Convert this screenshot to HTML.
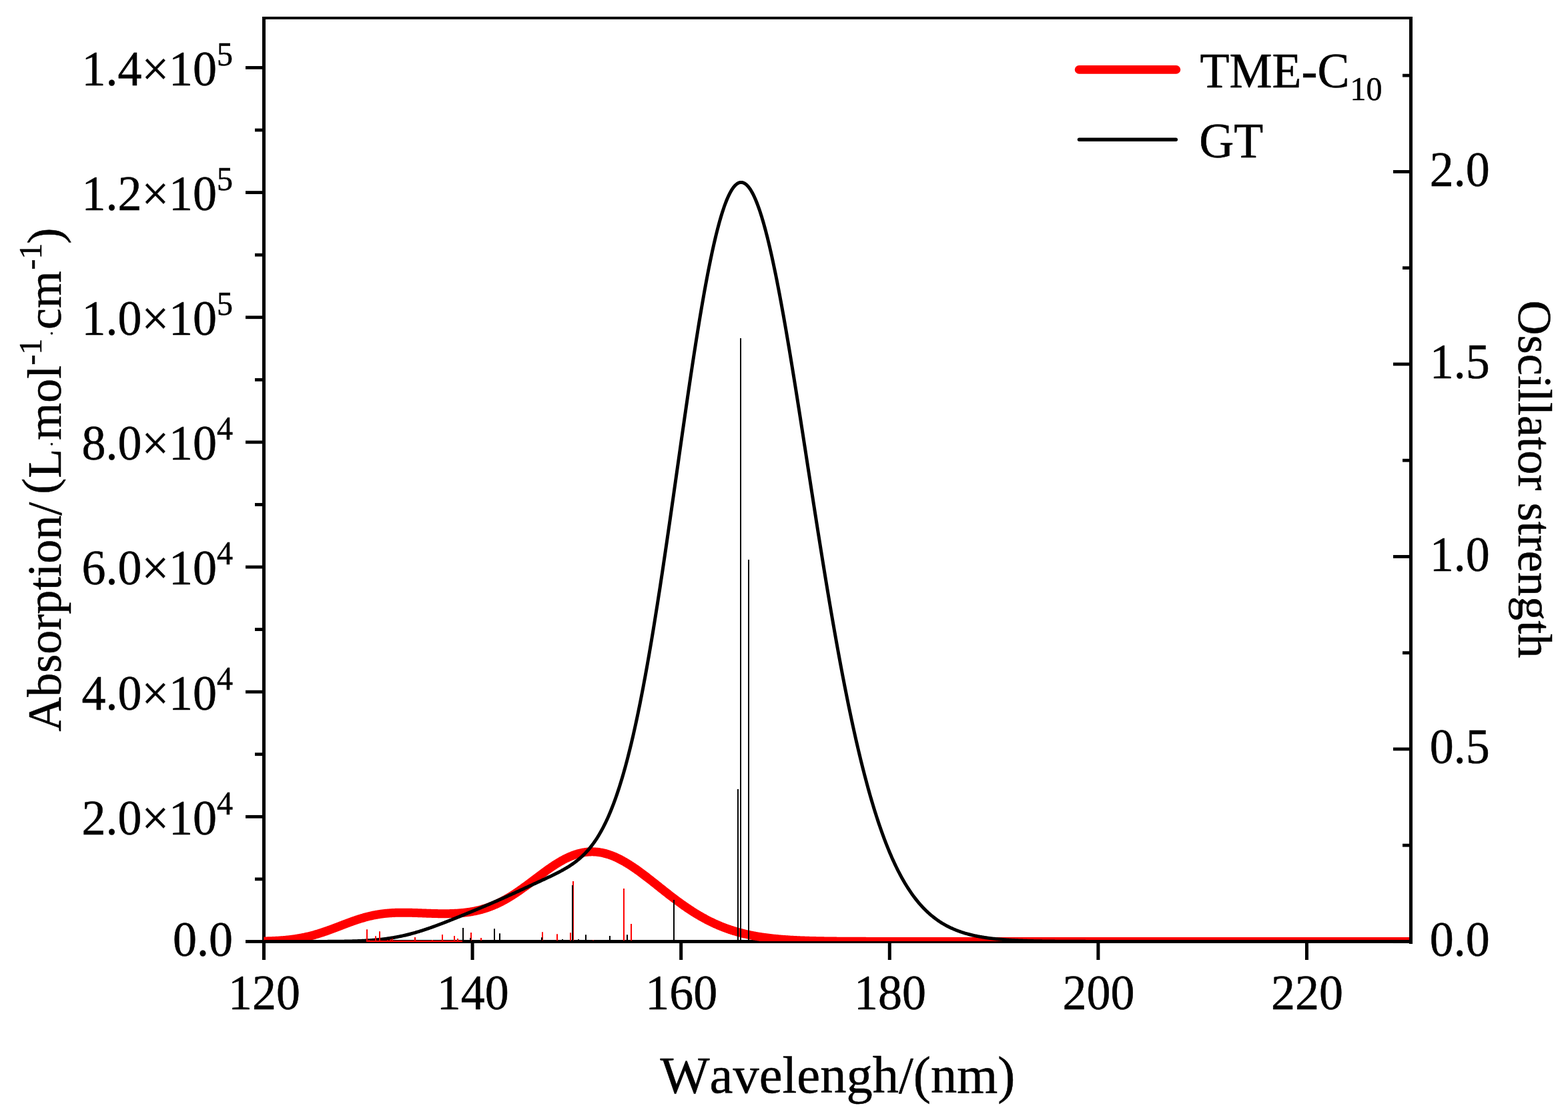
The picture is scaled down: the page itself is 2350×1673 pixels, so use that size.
<!DOCTYPE html>
<html><head><meta charset="utf-8"><title>Absorption spectrum: TME-C10 vs GT</title>
<style>html,body{margin:0;padding:0;background:#fff;overflow:hidden}svg{display:block}text{font-family:"Liberation Serif","Times New Roman",serif;fill:#000;stroke:#000;stroke-width:0.5px;font-kerning:none;font-feature-settings:"kern" 0,"liga" 0}</style></head><body>
<svg width="2350" height="1673" viewBox="0 0 2350 1673">
<rect width="2350" height="1673" fill="#fff"/>
<defs><clipPath id="pa"><rect x="395" y="27" width="1719.76" height="1384"/></clipPath></defs>
<g fill="#000">
<rect x="393" y="25" width="5" height="1414"/>
<rect x="393" y="1409" width="1724" height="4.9"/>
<rect x="392.95" y="1413" width="5" height="26"/>
<rect x="705.56" y="1413" width="5" height="26"/>
<rect x="1018.17" y="1413" width="5" height="26"/>
<rect x="1330.78" y="1413" width="5" height="26"/>
<rect x="1643.39" y="1413" width="5" height="26"/>
<rect x="1956.00" y="1413" width="5" height="26"/>
<rect x="368" y="1409.06" width="25" height="4.8"/>
<rect x="368" y="1221.91" width="25" height="4.8"/>
<rect x="368" y="1034.77" width="25" height="4.8"/>
<rect x="368" y="847.62" width="25" height="4.8"/>
<rect x="368" y="660.48" width="25" height="4.8"/>
<rect x="368" y="473.33" width="25" height="4.8"/>
<rect x="368" y="286.18" width="25" height="4.8"/>
<rect x="368" y="99.04" width="25" height="4.8"/>
<rect x="382" y="1315.49" width="11" height="4.8"/>
<rect x="382" y="1128.34" width="11" height="4.8"/>
<rect x="382" y="941.20" width="11" height="4.8"/>
<rect x="382" y="754.05" width="11" height="4.8"/>
<rect x="382" y="566.90" width="11" height="4.8"/>
<rect x="382" y="379.76" width="11" height="4.8"/>
<rect x="382" y="192.61" width="11" height="4.8"/>
</g>
<g clip-path="url(#pa)" fill="none" stroke-linejoin="round">
<polyline stroke="#f00" stroke-width="13" points="395.4,1411.03 396.4,1411.01 397.4,1410.98 398.4,1410.96 399.4,1410.93 400.4,1410.90 401.4,1410.87 402.4,1410.83 403.4,1410.80 404.4,1410.76 405.4,1410.73 406.4,1410.69 407.4,1410.64 408.4,1410.60 409.4,1410.56 410.4,1410.51 411.4,1410.46 412.4,1410.41 413.4,1410.36 414.4,1410.30 415.4,1410.24 416.4,1410.19 417.4,1410.12 418.4,1410.06 419.4,1409.99 420.4,1409.92 421.4,1409.85 422.4,1409.77 423.4,1409.69 424.4,1409.61 425.4,1409.53 426.4,1409.44 427.4,1409.35 428.4,1409.26 429.4,1409.16 430.4,1409.06 431.4,1408.96 432.4,1408.85 433.4,1408.74 434.4,1408.63 435.4,1408.51 436.4,1408.39 437.4,1408.26 438.4,1408.13 439.4,1408.00 440.4,1407.86 441.4,1407.72 442.4,1407.58 443.4,1407.43 444.4,1407.27 445.4,1407.11 446.4,1406.95 447.4,1406.79 448.4,1406.61 449.4,1406.44 450.4,1406.26 451.4,1406.07 452.4,1405.88 453.4,1405.69 454.4,1405.49 455.4,1405.29 456.4,1405.08 457.4,1404.87 458.4,1404.65 459.4,1404.43 460.4,1404.20 461.4,1403.97 462.4,1403.73 463.4,1403.49 464.4,1403.25 465.4,1403.00 466.4,1402.74 467.4,1402.48 468.4,1402.21 469.4,1401.94 470.4,1401.67 471.4,1401.39 472.4,1401.11 473.4,1400.82 474.4,1400.53 475.4,1400.23 476.4,1399.93 477.4,1399.62 478.4,1399.31 479.4,1399.00 480.4,1398.68 481.4,1398.36 482.4,1398.04 483.4,1397.71 484.4,1397.37 485.4,1397.04 486.4,1396.70 487.4,1396.35 488.4,1396.00 489.4,1395.65 490.4,1395.30 491.4,1394.94 492.4,1394.59 493.4,1394.22 494.4,1393.86 495.4,1393.49 496.4,1393.12 497.4,1392.75 498.4,1392.38 499.4,1392.01 500.4,1391.63 501.4,1391.25 502.4,1390.87 503.4,1390.49 504.4,1390.11 505.4,1389.73 506.4,1389.34 507.4,1388.96 508.4,1388.58 509.4,1388.19 510.4,1387.81 511.4,1387.42 512.5,1387.04 513.5,1386.66 514.5,1386.27 515.5,1385.89 516.5,1385.51 517.5,1385.13 518.5,1384.75 519.5,1384.38 520.5,1384.00 521.5,1383.63 522.5,1383.26 523.5,1382.89 524.5,1382.52 525.5,1382.16 526.5,1381.79 527.5,1381.44 528.5,1381.08 529.5,1380.73 530.5,1380.38 531.5,1380.03 532.5,1379.69 533.5,1379.35 534.5,1379.02 535.5,1378.68 536.5,1378.36 537.5,1378.04 538.5,1377.72 539.5,1377.40 540.5,1377.09 541.5,1376.79 542.5,1376.49 543.5,1376.19 544.5,1375.90 545.5,1375.62 546.5,1375.34 547.5,1375.06 548.5,1374.79 549.5,1374.53 550.5,1374.27 551.5,1374.02 552.5,1373.77 553.5,1373.53 554.5,1373.29 555.5,1373.06 556.5,1372.83 557.5,1372.61 558.5,1372.40 559.5,1372.19 560.5,1371.99 561.5,1371.79 562.5,1371.60 563.5,1371.42 564.5,1371.24 565.5,1371.06 566.5,1370.89 567.5,1370.73 568.5,1370.57 569.5,1370.42 570.5,1370.28 571.5,1370.14 572.5,1370.00 573.5,1369.87 574.5,1369.75 575.5,1369.63 576.5,1369.52 577.5,1369.41 578.5,1369.30 579.5,1369.21 580.5,1369.11 581.5,1369.02 582.5,1368.94 583.5,1368.86 584.5,1368.79 585.5,1368.72 586.5,1368.66 587.5,1368.60 588.5,1368.54 589.5,1368.49 590.5,1368.44 591.5,1368.40 592.5,1368.36 593.5,1368.32 594.5,1368.29 595.5,1368.26 596.5,1368.24 597.5,1368.22 598.5,1368.20 599.5,1368.19 600.5,1368.17 601.5,1368.17 602.5,1368.16 603.5,1368.16 604.5,1368.16 605.5,1368.16 606.5,1368.17 607.5,1368.17 608.5,1368.19 609.5,1368.20 610.5,1368.21 611.5,1368.23 612.5,1368.25 613.5,1368.27 614.5,1368.29 615.5,1368.31 616.5,1368.34 617.5,1368.37 618.5,1368.39 619.5,1368.42 620.5,1368.45 621.5,1368.49 622.5,1368.52 623.5,1368.55 624.5,1368.59 625.5,1368.62 626.5,1368.66 627.5,1368.69 628.5,1368.73 629.5,1368.77 630.5,1368.80 631.5,1368.84 632.5,1368.88 633.5,1368.92 634.5,1368.95 635.5,1368.99 636.5,1369.03 637.5,1369.06 638.5,1369.10 639.5,1369.14 640.5,1369.17 641.5,1369.21 642.5,1369.24 643.5,1369.28 644.5,1369.31 645.5,1369.34 646.5,1369.38 647.5,1369.41 648.5,1369.44 649.5,1369.46 650.5,1369.49 651.5,1369.52 652.5,1369.54 653.5,1369.56 654.5,1369.59 655.5,1369.61 656.5,1369.63 657.5,1369.64 658.5,1369.66 659.5,1369.67 660.5,1369.68 661.5,1369.69 662.5,1369.70 663.5,1369.70 664.5,1369.71 665.5,1369.71 666.5,1369.71 667.5,1369.70 668.5,1369.70 669.5,1369.69 670.5,1369.68 671.5,1369.66 672.5,1369.65 673.5,1369.63 674.5,1369.60 675.5,1369.58 676.5,1369.55 677.5,1369.51 678.5,1369.48 679.5,1369.44 680.5,1369.40 681.5,1369.35 682.5,1369.30 683.5,1369.25 684.5,1369.19 685.5,1369.13 686.5,1369.06 687.5,1368.99 688.5,1368.92 689.5,1368.84 690.5,1368.76 691.5,1368.67 692.5,1368.58 693.5,1368.48 694.5,1368.38 695.5,1368.27 696.5,1368.16 697.5,1368.04 698.5,1367.92 699.5,1367.79 700.5,1367.66 701.5,1367.52 702.5,1367.37 703.5,1367.22 704.5,1367.07 705.5,1366.91 706.5,1366.74 707.5,1366.56 708.5,1366.38 709.5,1366.20 710.5,1366.00 711.5,1365.80 712.5,1365.60 713.5,1365.38 714.5,1365.16 715.5,1364.94 716.5,1364.70 717.5,1364.46 718.5,1364.21 719.5,1363.96 720.5,1363.70 721.5,1363.43 722.5,1363.15 723.5,1362.86 724.5,1362.57 725.5,1362.27 726.5,1361.96 727.5,1361.65 728.5,1361.32 729.5,1360.99 730.5,1360.65 731.5,1360.30 732.5,1359.95 733.5,1359.58 734.5,1359.21 735.5,1358.83 736.5,1358.44 737.5,1358.05 738.5,1357.64 739.5,1357.23 740.5,1356.81 741.5,1356.38 742.5,1355.94 743.5,1355.50 744.5,1355.04 745.5,1354.58 746.5,1354.11 747.5,1353.63 748.5,1353.15 749.5,1352.65 750.5,1352.15 751.5,1351.64 752.5,1351.12 753.5,1350.59 754.5,1350.06 755.5,1349.52 756.5,1348.97 757.5,1348.41 758.5,1347.84 759.5,1347.27 760.5,1346.69 761.5,1346.10 762.5,1345.51 763.5,1344.90 764.5,1344.29 765.5,1343.68 766.5,1343.05 767.5,1342.42 768.5,1341.79 769.5,1341.14 770.5,1340.50 771.5,1339.84 772.5,1339.18 773.5,1338.51 774.5,1337.84 775.5,1337.16 776.5,1336.47 777.5,1335.78 778.5,1335.09 779.5,1334.39 780.5,1333.69 781.5,1332.98 782.5,1332.26 783.5,1331.55 784.5,1330.82 785.5,1330.10 786.5,1329.37 787.5,1328.64 788.5,1327.90 789.5,1327.16 790.5,1326.42 791.5,1325.68 792.5,1324.93 793.5,1324.19 794.5,1323.44 795.5,1322.68 796.5,1321.93 797.5,1321.18 798.5,1320.42 799.5,1319.67 800.5,1318.91 801.5,1318.15 802.5,1317.40 803.5,1316.64 804.5,1315.89 805.5,1315.13 806.5,1314.38 807.5,1313.62 808.5,1312.87 809.5,1312.12 810.5,1311.37 811.5,1310.63 812.5,1309.89 813.5,1309.15 814.5,1308.41 815.5,1307.67 816.5,1306.94 817.5,1306.22 818.5,1305.49 819.5,1304.78 820.5,1304.06 821.5,1303.35 822.5,1302.65 823.5,1301.95 824.5,1301.25 825.5,1300.56 826.5,1299.88 827.5,1299.21 828.5,1298.54 829.5,1297.87 830.5,1297.22 831.5,1296.57 832.5,1295.92 833.5,1295.29 834.5,1294.66 835.5,1294.04 836.5,1293.43 837.5,1292.83 838.5,1292.23 839.5,1291.65 840.5,1291.07 841.5,1290.50 842.5,1289.95 843.5,1289.40 844.5,1288.86 845.5,1288.33 846.5,1287.81 847.5,1287.30 848.5,1286.80 849.5,1286.32 850.5,1285.84 851.5,1285.37 852.5,1284.92 853.5,1284.48 854.5,1284.04 855.5,1283.62 856.5,1283.21 857.5,1282.82 858.5,1282.43 859.5,1282.06 860.5,1281.70 861.5,1281.35 862.5,1281.01 863.5,1280.69 864.5,1280.38 865.5,1280.08 866.5,1279.79 867.5,1279.52 868.5,1279.26 869.5,1279.01 870.5,1278.78 871.5,1278.56 872.5,1278.35 873.5,1278.16 874.5,1277.98 875.5,1277.81 876.5,1277.66 877.5,1277.51 878.5,1277.39 879.5,1277.28 880.5,1277.18 881.5,1277.09 882.5,1277.02 883.5,1276.96 884.5,1276.91 885.5,1276.88 886.5,1276.87 887.5,1276.86 888.5,1276.87 889.5,1276.90 890.5,1276.93 891.5,1276.98 892.5,1277.05 893.5,1277.12 894.5,1277.22 895.5,1277.32 896.5,1277.44 897.5,1277.57 898.5,1277.72 899.5,1277.87 900.5,1278.04 901.5,1278.23 902.5,1278.43 903.5,1278.64 904.5,1278.86 905.5,1279.10 906.5,1279.35 907.5,1279.61 908.5,1279.88 909.5,1280.17 910.5,1280.47 911.5,1280.78 912.5,1281.10 913.5,1281.44 914.5,1281.79 915.5,1282.14 916.5,1282.52 917.5,1282.90 918.5,1283.29 919.5,1283.70 920.5,1284.11 921.5,1284.54 922.5,1284.98 923.5,1285.43 924.5,1285.89 925.5,1286.36 926.5,1286.84 927.5,1287.33 928.5,1287.84 929.5,1288.35 930.5,1288.87 931.5,1289.40 932.5,1289.94 933.5,1290.49 934.5,1291.05 935.5,1291.61 936.5,1292.19 937.5,1292.78 938.5,1293.37 939.5,1293.97 940.5,1294.58 941.5,1295.20 942.5,1295.82 943.5,1296.46 944.5,1297.10 945.5,1297.75 946.5,1298.40 947.5,1299.06 948.5,1299.73 949.5,1300.41 950.5,1301.09 951.5,1301.78 952.5,1302.47 953.5,1303.17 954.5,1303.88 955.5,1304.59 956.5,1305.31 957.5,1306.03 958.5,1306.76 959.5,1307.49 960.5,1308.22 961.5,1308.96 962.5,1309.71 963.5,1310.46 964.5,1311.21 965.5,1311.97 966.5,1312.73 967.5,1313.49 968.5,1314.26 969.5,1315.02 970.5,1315.80 971.5,1316.57 972.5,1317.35 973.5,1318.13 974.5,1318.91 975.5,1319.69 976.5,1320.48 977.5,1321.27 978.5,1322.06 979.5,1322.85 980.5,1323.64 981.5,1324.43 982.5,1325.22 983.5,1326.02 984.5,1326.81 985.5,1327.60 986.5,1328.40 987.5,1329.19 988.5,1329.99 989.5,1330.78 990.5,1331.57 991.5,1332.37 992.5,1333.16 993.5,1333.95 994.5,1334.74 995.5,1335.53 996.5,1336.32 997.5,1337.11 998.5,1337.89 999.5,1338.67 1000.5,1339.46 1001.5,1340.23 1002.5,1341.01 1003.5,1341.79 1004.5,1342.56 1005.5,1343.33 1006.5,1344.10 1007.5,1344.86 1008.5,1345.63 1009.5,1346.39 1010.5,1347.14 1011.5,1347.90 1012.5,1348.65 1013.5,1349.40 1014.5,1350.14 1015.5,1350.88 1016.5,1351.62 1017.5,1352.35 1018.5,1353.08 1019.5,1353.80 1020.5,1354.52 1021.5,1355.24 1022.5,1355.96 1023.5,1356.66 1024.5,1357.37 1025.5,1358.07 1026.5,1358.77 1027.5,1359.46 1028.5,1360.14 1029.5,1360.83 1030.5,1361.50 1031.5,1362.18 1032.5,1362.85 1033.5,1363.51 1034.5,1364.17 1035.5,1364.82 1036.5,1365.47 1037.5,1366.11 1038.5,1366.75 1039.5,1367.38 1040.5,1368.01 1041.5,1368.64 1042.5,1369.25 1043.5,1369.87 1044.5,1370.47 1045.5,1371.07 1046.5,1371.67 1047.5,1372.26 1048.5,1372.85 1049.5,1373.43 1050.5,1374.00 1051.5,1374.57 1052.5,1375.13 1053.5,1375.69 1054.5,1376.24 1055.5,1376.79 1056.5,1377.33 1057.5,1377.87 1058.5,1378.40 1059.5,1378.92 1060.5,1379.44 1061.5,1379.95 1062.5,1380.46 1063.5,1380.96 1064.5,1381.46 1065.5,1381.95 1066.5,1382.43 1067.5,1382.91 1068.5,1383.39 1069.5,1383.86 1070.5,1384.32 1071.5,1384.78 1072.5,1385.23 1073.5,1385.68 1074.5,1386.12 1075.5,1386.55 1076.5,1386.98 1077.5,1387.41 1078.5,1387.83 1079.5,1388.24 1080.5,1388.65 1081.5,1389.05 1082.5,1389.45 1083.5,1389.84 1084.5,1390.23 1085.5,1390.61 1086.5,1390.99 1087.5,1391.36 1088.5,1391.73 1089.5,1392.09 1090.5,1392.45 1091.5,1392.80 1092.5,1393.14 1093.5,1393.49 1094.5,1393.82 1095.5,1394.15 1096.5,1394.48 1097.5,1394.80 1098.5,1395.12 1099.5,1395.43 1100.5,1395.74 1101.5,1396.04 1102.5,1396.34 1103.5,1396.64 1104.5,1396.92 1105.5,1397.21 1106.5,1397.49 1107.5,1397.77 1108.5,1398.04 1109.5,1398.30 1110.5,1398.57 1111.5,1398.83 1112.5,1399.08 1113.5,1399.33 1114.5,1399.58 1115.5,1399.82 1116.5,1400.06 1117.5,1400.29 1118.5,1400.52 1119.5,1400.75 1120.5,1400.97 1121.5,1401.19 1122.5,1401.40 1123.5,1401.61 1124.5,1401.82 1125.5,1402.02 1126.5,1402.23 1127.5,1402.42 1128.5,1402.61 1129.5,1402.80 1130.5,1402.99 1131.5,1403.17 1132.5,1403.35 1133.5,1403.53 1134.5,1403.70 1135.5,1403.87 1136.5,1404.04 1137.5,1404.20 1138.5,1404.36 1139.5,1404.52 1140.5,1404.67 1141.5,1404.83 1142.5,1404.97 1143.5,1405.12 1144.5,1405.26 1145.5,1405.40 1146.5,1405.54 1147.5,1405.68 1148.5,1405.81 1149.5,1405.94 1150.5,1406.06 1151.5,1406.19 1152.5,1406.31 1153.5,1406.43 1154.5,1406.55 1155.5,1406.66 1156.5,1406.77 1157.5,1406.88 1158.5,1406.99 1159.5,1407.10 1160.5,1407.20 1161.5,1407.30 1162.5,1407.40 1163.5,1407.50 1164.5,1407.59 1165.5,1407.69 1166.5,1407.78 1167.5,1407.87 1168.5,1407.95 1169.5,1408.04 1170.5,1408.12 1171.5,1408.20 1172.5,1408.28 1173.5,1408.36 1174.5,1408.44 1175.5,1408.51 1176.5,1408.59 1177.5,1408.66 1178.5,1408.73 1179.5,1408.80 1180.5,1408.86 1181.5,1408.93 1182.5,1408.99 1183.5,1409.05 1184.5,1409.12 1185.5,1409.18 1186.5,1409.23 1187.5,1409.29 1188.5,1409.35 1189.5,1409.40 1190.5,1409.45 1191.5,1409.51 1192.5,1409.56 1193.5,1409.61 1194.5,1409.65 1195.5,1409.70 1196.5,1409.75 1197.5,1409.79 1198.5,1409.84 1199.5,1409.88 1200.5,1409.92 1201.5,1409.96 1202.5,1410.00 1203.5,1410.04 1204.5,1410.08 1205.5,1410.11 1206.5,1410.15 1207.5,1410.19 1208.5,1410.22 1209.5,1410.25 1210.5,1410.29 1211.5,1410.32 1212.5,1410.35 1213.5,1410.38 1214.5,1410.41 1215.5,1410.44 1216.5,1410.47 1217.5,1410.49 1218.5,1410.52 1219.5,1410.55 1220.5,1410.57 1221.5,1410.60 1222.5,1410.62 1223.5,1410.64 1224.5,1410.67 1225.5,1410.69 1226.5,1410.71 1227.5,1410.73 1228.5,1410.75 1229.5,1410.77 1230.5,1410.79 1231.5,1410.81 1232.5,1410.83 1233.5,1410.85 1234.5,1410.86 1235.5,1410.88 1236.5,1410.90 1237.5,1410.91 1238.5,1410.93 1239.5,1410.94 1240.5,1410.96 1241.5,1410.97 1242.5,1410.99 1243.5,1411.00 1244.5,1411.02 1245.5,1411.03 1246.5,1411.04 1247.5,1411.05 1248.5,1411.07 1249.5,1411.08 1250.5,1411.09 1251.5,1411.10 1252.5,1411.11 1253.5,1411.12 1254.5,1411.13 1255.5,1411.14 1256.5,1411.15 1257.5,1411.16 1258.5,1411.17 1259.5,1411.18 1260.5,1411.19 1261.5,1411.19 1262.5,1411.20 1263.5,1411.21 1264.5,1411.22 1265.5,1411.22 1266.5,1411.23 1267.5,1411.24 1268.5,1411.25 1269.5,1411.25 1270.5,1411.26 1271.5,1411.26 1272.5,1411.27 1273.5,1411.28 1274.5,1411.28 1275.5,1411.29 1276.5,1411.29 1277.5,1411.30 1278.5,1411.30 1279.5,1411.31 1280.5,1411.31 1281.5,1411.32 1282.5,1411.32 1283.5,1411.33 1284.5,1411.33 1285.5,1411.33 1286.5,1411.34 1287.5,1411.34 1288.5,1411.35 1289.5,1411.35 1290.5,1411.35 1291.5,1411.36 1292.5,1411.36 1293.5,1411.36 1294.5,1411.37 1295.5,1411.37 1296.5,1411.37 1297.5,1411.37 1298.5,1411.38 1299.5,1411.38 1300.5,1411.38 1301.5,1411.39 1302.5,1411.39 1303.5,1411.39 1304.5,1411.39 1305.5,1411.39 1306.5,1411.40 1307.5,1411.40 1308.5,1411.40 1309.5,1411.40 1310.5,1411.40 1311.5,1411.41 1312.5,1411.41 1313.5,1411.41 1314.5,1411.41 1315.5,1411.41 1316.5,1411.41 1317.5,1411.42 1318.5,1411.42 1319.5,1411.42 1320.5,1411.42 1321.5,1411.42 1322.5,1411.42 1323.5,1411.42 1324.5,1411.43 1325.5,1411.43 1326.5,1411.43 1327.5,1411.43 1328.5,1411.43 1329.5,1411.43 1330.5,1411.43 1331.5,1411.43 1332.5,1411.43 1333.5,1411.43 1334.5,1411.44 1335.5,1411.44 1336.5,1411.44 1337.5,1411.44 1338.5,1411.44 1339.5,1411.44 1340.5,1411.44 1341.5,1411.44 1342.5,1411.44 1343.5,1411.44 1344.5,1411.44 1345.5,1411.44 1346.5,1411.44 1347.5,1411.44 1348.5,1411.44 1349.5,1411.45 1350.5,1411.45 1351.5,1411.45 1352.5,1411.45 1353.5,1411.45 1354.5,1411.45 1355.5,1411.45 1356.5,1411.45 1357.5,1411.45 1358.5,1411.45 1359.5,1411.45 1360.5,1411.45 1361.5,1411.45 1362.5,1411.45 1363.5,1411.45 1364.5,1411.45 1365.5,1411.45 1366.5,1411.45 1367.5,1411.45 1368.5,1411.45 1369.5,1411.45 1370.5,1411.45 1371.5,1411.45 1372.5,1411.45 1373.5,1411.45 1374.5,1411.45 1375.5,1411.45 1376.5,1411.45 1377.5,1411.45 1378.5,1411.45 1379.5,1411.46 1380.5,1411.46 1381.5,1411.46 1382.5,1411.46 1383.5,1411.46 1384.5,1411.46 1385.5,1411.46 1386.5,1411.46 1387.5,1411.46 1388.5,1411.46 1389.5,1411.46 1390.5,1411.46 1391.5,1411.46 1392.5,1411.46 1393.5,1411.46 1394.5,1411.46 1395.5,1411.46 1396.5,1411.46 1397.5,1411.46 1398.5,1411.46 1399.5,1411.46 1400.5,1411.46 1401.5,1411.46 1402.5,1411.46 1403.5,1411.46 1404.5,1411.46 1405.5,1411.46 1406.5,1411.46 1407.5,1411.46 1408.5,1411.46 1409.5,1411.46 1410.5,1411.46 1411.5,1411.46 1412.5,1411.46 1413.5,1411.46 1414.5,1411.46 1415.5,1411.46 1416.5,1411.46 1417.5,1411.46 1418.5,1411.46 1419.5,1411.46 1420.5,1411.46 1421.5,1411.46 1422.5,1411.46 1423.5,1411.46 1424.5,1411.46 1425.5,1411.46 1426.5,1411.46 1427.5,1411.46 1428.5,1411.46 1429.5,1411.46 1430.5,1411.46 1431.5,1411.46 1432.5,1411.46 1433.5,1411.46 1434.5,1411.46 1435.5,1411.46 1436.5,1411.46 1437.5,1411.46 1438.5,1411.46 1439.5,1411.46 1440.5,1411.46 1441.5,1411.46 1442.5,1411.46 1443.5,1411.46 1444.5,1411.46 1445.5,1411.46 1446.5,1411.46 1447.5,1411.46 1448.5,1411.46 1449.5,1411.46 1450.5,1411.46 1451.5,1411.46 1452.5,1411.46 1453.5,1411.46 1454.5,1411.46 1455.5,1411.46 1456.5,1411.46 1457.5,1411.46 1458.5,1411.46 1459.5,1411.46 1460.5,1411.46 1461.5,1411.46 1462.5,1411.46 1463.5,1411.46 1464.5,1411.46 1465.5,1411.46 1466.5,1411.46 1467.5,1411.46 1468.5,1411.46 1469.5,1411.46 1470.5,1411.46 1471.5,1411.46 1472.5,1411.46 1473.5,1411.46 1474.5,1411.46 1475.5,1411.46 1476.5,1411.46 1477.5,1411.46 1478.5,1411.46 1479.5,1411.46 1480.5,1411.46 1481.5,1411.46 1482.5,1411.46 1483.5,1411.46 1484.5,1411.46 1485.5,1411.46 1486.5,1411.46 1487.5,1411.46 1488.5,1411.46 1489.5,1411.46 1490.5,1411.46 1491.5,1411.46 1492.5,1411.46 1493.5,1411.46 1494.5,1411.46 1495.5,1411.46 1496.5,1411.46 1497.5,1411.46 1498.5,1411.46 1499.5,1411.46 1500.5,1411.46 1501.5,1411.46 1502.5,1411.46 1503.5,1411.46 1504.5,1411.46 1505.5,1411.46 1506.5,1411.46 1507.5,1411.46 1508.5,1411.46 1509.5,1411.46 1510.5,1411.46 1511.5,1411.46 1512.5,1411.46 1513.5,1411.46 1514.5,1411.46 1515.5,1411.46 1516.5,1411.46 1517.5,1411.46 1518.5,1411.46 1519.5,1411.46 1520.5,1411.46 1521.5,1411.46 1522.5,1411.46 1523.5,1411.46 1524.5,1411.46 1525.5,1411.46 1526.5,1411.46 1527.5,1411.46 1528.5,1411.46 1529.5,1411.46 1530.5,1411.46 1531.5,1411.46 1532.5,1411.46 1533.5,1411.46 1534.5,1411.46 1535.5,1411.46 1536.5,1411.46 1537.5,1411.46 1538.5,1411.46 1539.5,1411.46 1540.5,1411.46 1541.5,1411.46 1542.5,1411.46 1543.5,1411.46 1544.5,1411.46 1545.5,1411.46 1546.5,1411.46 1547.5,1411.46 1548.5,1411.46 1549.5,1411.46 1550.5,1411.46 1551.5,1411.46 1552.5,1411.46 1553.5,1411.46 1554.5,1411.46 1555.5,1411.46 1556.5,1411.46 1557.5,1411.46 1558.5,1411.46 1559.5,1411.46 1560.5,1411.46 1561.5,1411.46 1562.5,1411.46 1563.5,1411.46 1564.5,1411.46 1565.5,1411.46 1566.5,1411.46 1567.5,1411.46 1568.5,1411.46 1569.5,1411.46 1570.5,1411.46 1571.5,1411.46 1572.5,1411.46 1573.5,1411.46 1574.5,1411.46 1575.5,1411.46 1576.5,1411.46 1577.5,1411.46 1578.5,1411.46 1579.5,1411.46 1580.5,1411.46 1581.5,1411.46 1582.5,1411.46 1583.5,1411.46 1584.5,1411.46 1585.5,1411.46 1586.5,1411.46 1587.5,1411.46 1588.5,1411.46 1589.5,1411.46 1590.5,1411.46 1591.5,1411.46 1592.5,1411.46 1593.5,1411.46 1594.5,1411.46 1595.5,1411.46 1596.5,1411.46 1597.5,1411.46 1598.5,1411.46 1599.5,1411.46 1600.5,1411.46 1601.5,1411.46 1602.5,1411.46 1603.5,1411.46 1604.5,1411.46 1605.5,1411.46 1606.5,1411.46 1607.5,1411.46 1608.5,1411.46 1609.5,1411.46 1610.5,1411.46 1611.5,1411.46 1612.5,1411.46 1613.5,1411.46 1614.5,1411.46 1615.5,1411.46 1616.5,1411.46 1617.5,1411.46 1618.5,1411.46 1619.5,1411.46 1620.5,1411.46 1621.5,1411.46 1622.5,1411.46 1623.5,1411.46 1624.5,1411.46 1625.5,1411.46 1626.5,1411.46 1627.5,1411.46 1628.5,1411.46 1629.5,1411.46 1630.5,1411.46 1631.5,1411.46 1632.5,1411.46 1633.5,1411.46 1634.5,1411.46 1635.5,1411.46 1636.5,1411.46 1637.5,1411.46 1638.5,1411.46 1639.5,1411.46 1640.5,1411.46 1641.5,1411.46 1642.5,1411.46 1643.5,1411.46 1644.5,1411.46 1645.5,1411.46 1646.5,1411.46 1647.5,1411.46 1648.5,1411.46 1649.5,1411.46 1650.5,1411.46 1651.5,1411.46 1652.5,1411.46 1653.5,1411.46 1654.5,1411.46 1655.5,1411.46 1656.5,1411.46 1657.5,1411.46 1658.5,1411.46 1659.5,1411.46 1660.5,1411.46 1661.5,1411.46 1662.5,1411.46 1663.5,1411.46 1664.5,1411.46 1665.5,1411.46 1666.5,1411.46 1667.5,1411.46 1668.5,1411.46 1669.5,1411.46 1670.5,1411.46 1671.5,1411.46 1672.5,1411.46 1673.5,1411.46 1674.5,1411.46 1675.5,1411.46 1676.5,1411.46 1677.5,1411.46 1678.5,1411.46 1679.5,1411.46 1680.5,1411.46 1681.5,1411.46 1682.5,1411.46 1683.5,1411.46 1684.5,1411.46 1685.5,1411.46 1686.5,1411.46 1687.5,1411.46 1688.5,1411.46 1689.5,1411.46 1690.5,1411.46 1691.5,1411.46 1692.5,1411.46 1693.5,1411.46 1694.5,1411.46 1695.5,1411.46 1696.5,1411.46 1697.5,1411.46 1698.5,1411.46 1699.5,1411.46 1700.5,1411.46 1701.5,1411.46 1702.5,1411.46 1703.5,1411.46 1704.5,1411.46 1705.5,1411.46 1706.5,1411.46 1707.5,1411.46 1708.5,1411.46 1709.5,1411.46 1710.5,1411.46 1711.5,1411.46 1712.5,1411.46 1713.5,1411.46 1714.5,1411.46 1715.5,1411.46 1716.5,1411.46 1717.5,1411.46 1718.5,1411.46 1719.5,1411.46 1720.5,1411.46 1721.5,1411.46 1722.5,1411.46 1723.5,1411.46 1724.5,1411.46 1725.5,1411.46 1726.5,1411.46 1727.5,1411.46 1728.5,1411.46 1729.5,1411.46 1730.5,1411.46 1731.5,1411.46 1732.5,1411.46 1733.5,1411.46 1734.5,1411.46 1735.5,1411.46 1736.5,1411.46 1737.5,1411.46 1738.5,1411.46 1739.5,1411.46 1740.5,1411.46 1741.5,1411.46 1742.5,1411.46 1743.5,1411.46 1744.5,1411.46 1745.5,1411.46 1746.5,1411.46 1747.5,1411.46 1748.5,1411.46 1749.5,1411.46 1750.5,1411.46 1751.5,1411.46 1752.5,1411.46 1753.5,1411.46 1754.5,1411.46 1755.5,1411.46 1756.5,1411.46 1757.5,1411.46 1758.5,1411.46 1759.5,1411.46 1760.5,1411.46 1761.5,1411.46 1762.5,1411.46 1763.5,1411.46 1764.5,1411.46 1765.5,1411.46 1766.5,1411.46 1767.5,1411.46 1768.5,1411.46 1769.5,1411.46 1770.5,1411.46 1771.5,1411.46 1772.5,1411.46 1773.5,1411.46 1774.5,1411.46 1775.5,1411.46 1776.5,1411.46 1777.5,1411.46 1778.5,1411.46 1779.5,1411.46 1780.5,1411.46 1781.5,1411.46 1782.5,1411.46 1783.5,1411.46 1784.5,1411.46 1785.5,1411.46 1786.5,1411.46 1787.5,1411.46 1788.5,1411.46 1789.5,1411.46 1790.5,1411.46 1791.5,1411.46 1792.5,1411.46 1793.5,1411.46 1794.5,1411.46 1795.5,1411.46 1796.5,1411.46 1797.5,1411.46 1798.5,1411.46 1799.5,1411.46 1800.5,1411.46 1801.5,1411.46 1802.5,1411.46 1803.5,1411.46 1804.5,1411.46 1805.5,1411.46 1806.5,1411.46 1807.5,1411.46 1808.5,1411.46 1809.5,1411.46 1810.5,1411.46 1811.5,1411.46 1812.5,1411.46 1813.5,1411.46 1814.5,1411.46 1815.5,1411.46 1816.5,1411.46 1817.5,1411.46 1818.5,1411.46 1819.5,1411.46 1820.5,1411.46 1821.5,1411.46 1822.5,1411.46 1823.5,1411.46 1824.5,1411.46 1825.5,1411.46 1826.5,1411.46 1827.5,1411.46 1828.5,1411.46 1829.5,1411.46 1830.5,1411.46 1831.5,1411.46 1832.5,1411.46 1833.5,1411.46 1834.5,1411.46 1835.5,1411.46 1836.5,1411.46 1837.5,1411.46 1838.5,1411.46 1839.5,1411.46 1840.5,1411.46 1841.5,1411.46 1842.5,1411.46 1843.5,1411.46 1844.5,1411.46 1845.5,1411.46 1846.5,1411.46 1847.5,1411.46 1848.5,1411.46 1849.5,1411.46 1850.5,1411.46 1851.5,1411.46 1852.5,1411.46 1853.5,1411.46 1854.5,1411.46 1855.5,1411.46 1856.5,1411.46 1857.5,1411.46 1858.5,1411.46 1859.5,1411.46 1860.5,1411.46 1861.5,1411.46 1862.5,1411.46 1863.5,1411.46 1864.5,1411.46 1865.5,1411.46 1866.5,1411.46 1867.5,1411.46 1868.5,1411.46 1869.5,1411.46 1870.5,1411.46 1871.5,1411.46 1872.5,1411.46 1873.5,1411.46 1874.5,1411.46 1875.5,1411.46 1876.5,1411.46 1877.5,1411.46 1878.5,1411.46 1879.5,1411.46 1880.5,1411.46 1881.5,1411.46 1882.5,1411.46 1883.5,1411.46 1884.5,1411.46 1885.5,1411.46 1886.5,1411.46 1887.5,1411.46 1888.5,1411.46 1889.5,1411.46 1890.5,1411.46 1891.5,1411.46 1892.5,1411.46 1893.5,1411.46 1894.5,1411.46 1895.5,1411.46 1896.5,1411.46 1897.5,1411.46 1898.5,1411.46 1899.5,1411.46 1900.5,1411.46 1901.5,1411.46 1902.5,1411.46 1903.5,1411.46 1904.5,1411.46 1905.5,1411.46 1906.5,1411.46 1907.5,1411.46 1908.5,1411.46 1909.5,1411.46 1910.5,1411.46 1911.5,1411.46 1912.5,1411.46 1913.5,1411.46 1914.5,1411.46 1915.5,1411.46 1916.5,1411.46 1917.5,1411.46 1918.5,1411.46 1919.5,1411.46 1920.5,1411.46 1921.5,1411.46 1922.5,1411.46 1923.5,1411.46 1924.5,1411.46 1925.5,1411.46 1926.5,1411.46 1927.5,1411.46 1928.5,1411.46 1929.5,1411.46 1930.5,1411.46 1931.5,1411.46 1932.5,1411.46 1933.5,1411.46 1934.5,1411.46 1935.5,1411.46 1936.5,1411.46 1937.5,1411.46 1938.5,1411.46 1939.5,1411.46 1940.5,1411.46 1941.5,1411.46 1942.5,1411.46 1943.5,1411.46 1944.5,1411.46 1945.5,1411.46 1946.5,1411.46 1947.5,1411.46 1948.5,1411.46 1949.5,1411.46 1950.5,1411.46 1951.5,1411.46 1952.5,1411.46 1953.5,1411.46 1954.5,1411.46 1955.5,1411.46 1956.5,1411.46 1957.5,1411.46 1958.5,1411.46 1959.5,1411.46 1960.5,1411.46 1961.5,1411.46 1962.5,1411.46 1963.5,1411.46 1964.5,1411.46 1965.5,1411.46 1966.5,1411.46 1967.5,1411.46 1968.5,1411.46 1969.5,1411.46 1970.5,1411.46 1971.5,1411.46 1972.5,1411.46 1973.5,1411.46 1974.5,1411.46 1975.5,1411.46 1976.5,1411.46 1977.5,1411.46 1978.5,1411.46 1979.5,1411.46 1980.5,1411.46 1981.5,1411.46 1982.5,1411.46 1983.5,1411.46 1984.5,1411.46 1985.5,1411.46 1986.5,1411.46 1987.5,1411.46 1988.5,1411.46 1989.5,1411.46 1990.5,1411.46 1991.5,1411.46 1992.5,1411.46 1993.5,1411.46 1994.5,1411.46 1995.5,1411.46 1996.5,1411.46 1997.5,1411.46 1998.5,1411.46 1999.5,1411.46 2000.5,1411.46 2001.5,1411.46 2002.5,1411.46 2003.5,1411.46 2004.5,1411.46 2005.5,1411.46 2006.5,1411.46 2007.5,1411.46 2008.5,1411.46 2009.5,1411.46 2010.5,1411.46 2011.5,1411.46 2012.5,1411.46 2013.5,1411.46 2014.5,1411.46 2015.5,1411.46 2016.5,1411.46 2017.5,1411.46 2018.5,1411.46 2019.5,1411.46 2020.5,1411.46 2021.5,1411.46 2022.5,1411.46 2023.5,1411.46 2024.5,1411.46 2025.5,1411.46 2026.5,1411.46 2027.5,1411.46 2028.5,1411.46 2029.5,1411.46 2030.5,1411.46 2031.5,1411.46 2032.5,1411.46 2033.5,1411.46 2034.5,1411.46 2035.5,1411.46 2036.5,1411.46 2037.5,1411.46 2038.5,1411.46 2039.5,1411.46 2040.5,1411.46 2041.5,1411.46 2042.5,1411.46 2043.5,1411.46 2044.5,1411.46 2045.5,1411.46 2046.5,1411.46 2047.5,1411.46 2048.4,1411.46 2049.4,1411.46 2050.4,1411.46 2051.4,1411.46 2052.4,1411.46 2053.4,1411.46 2054.4,1411.46 2055.4,1411.46 2056.4,1411.46 2057.4,1411.46 2058.4,1411.46 2059.4,1411.46 2060.4,1411.46 2061.4,1411.46 2062.4,1411.46 2063.4,1411.46 2064.4,1411.46 2065.4,1411.46 2066.4,1411.46 2067.4,1411.46 2068.4,1411.46 2069.4,1411.46 2070.4,1411.46 2071.4,1411.46 2072.4,1411.46 2073.4,1411.46 2074.4,1411.46 2075.4,1411.46 2076.4,1411.46 2077.4,1411.46 2078.4,1411.46 2079.4,1411.46 2080.4,1411.46 2081.4,1411.46 2082.4,1411.46 2083.4,1411.46 2084.4,1411.46 2085.4,1411.46 2086.4,1411.46 2087.4,1411.46 2088.4,1411.46 2089.4,1411.46 2090.4,1411.46 2091.4,1411.46 2092.4,1411.46 2093.4,1411.46 2094.4,1411.46 2095.4,1411.46 2096.4,1411.46 2097.4,1411.46 2098.4,1411.46 2099.4,1411.46 2100.4,1411.46 2101.4,1411.46 2102.4,1411.46 2103.4,1411.46 2104.4,1411.46 2105.4,1411.46 2106.4,1411.46 2107.4,1411.46 2108.4,1411.46 2109.4,1411.46 2110.4,1411.46 2111.4,1411.46 2112.4,1411.46 2113.4,1411.46 2114.4,1411.46"/>
<polyline stroke="#000" stroke-width="5" points="395.4,1411.46 396.4,1411.46 397.4,1411.46 398.4,1411.46 399.4,1411.46 400.4,1411.46 401.4,1411.46 402.4,1411.46 403.4,1411.46 404.4,1411.46 405.4,1411.46 406.4,1411.46 407.4,1411.46 408.4,1411.46 409.4,1411.46 410.4,1411.46 411.4,1411.46 412.4,1411.46 413.4,1411.46 414.4,1411.46 415.4,1411.46 416.4,1411.46 417.4,1411.46 418.4,1411.46 419.4,1411.46 420.4,1411.46 421.4,1411.46 422.4,1411.46 423.4,1411.46 424.4,1411.46 425.4,1411.46 426.4,1411.46 427.4,1411.46 428.4,1411.46 429.4,1411.46 430.4,1411.46 431.4,1411.46 432.4,1411.46 433.4,1411.46 434.4,1411.46 435.4,1411.46 436.4,1411.46 437.4,1411.46 438.4,1411.46 439.4,1411.46 440.4,1411.46 441.4,1411.46 442.4,1411.46 443.4,1411.46 444.4,1411.46 445.4,1411.46 446.4,1411.46 447.4,1411.46 448.4,1411.45 449.4,1411.45 450.4,1411.45 451.4,1411.45 452.4,1411.45 453.4,1411.45 454.4,1411.45 455.4,1411.45 456.4,1411.45 457.4,1411.45 458.4,1411.45 459.4,1411.45 460.4,1411.45 461.4,1411.45 462.4,1411.45 463.4,1411.45 464.4,1411.44 465.4,1411.44 466.4,1411.44 467.4,1411.44 468.4,1411.44 469.4,1411.44 470.4,1411.44 471.4,1411.43 472.4,1411.43 473.4,1411.43 474.4,1411.43 475.4,1411.43 476.4,1411.43 477.4,1411.42 478.4,1411.42 479.4,1411.42 480.4,1411.41 481.4,1411.41 482.4,1411.41 483.4,1411.41 484.4,1411.40 485.4,1411.40 486.4,1411.39 487.4,1411.39 488.4,1411.39 489.4,1411.38 490.4,1411.38 491.4,1411.37 492.4,1411.37 493.4,1411.36 494.4,1411.36 495.4,1411.35 496.4,1411.34 497.4,1411.34 498.4,1411.33 499.4,1411.32 500.4,1411.31 501.4,1411.31 502.4,1411.30 503.4,1411.29 504.4,1411.28 505.4,1411.27 506.4,1411.26 507.4,1411.25 508.4,1411.23 509.4,1411.22 510.4,1411.21 511.4,1411.20 512.5,1411.18 513.5,1411.17 514.5,1411.15 515.5,1411.14 516.5,1411.12 517.5,1411.10 518.5,1411.08 519.5,1411.07 520.5,1411.05 521.5,1411.02 522.5,1411.00 523.5,1410.98 524.5,1410.96 525.5,1410.93 526.5,1410.91 527.5,1410.88 528.5,1410.85 529.5,1410.83 530.5,1410.80 531.5,1410.77 532.5,1410.73 533.5,1410.70 534.5,1410.67 535.5,1410.63 536.5,1410.59 537.5,1410.55 538.5,1410.51 539.5,1410.47 540.5,1410.43 541.5,1410.38 542.5,1410.34 543.5,1410.29 544.5,1410.24 545.5,1410.19 546.5,1410.14 547.5,1410.08 548.5,1410.03 549.5,1409.97 550.5,1409.91 551.5,1409.84 552.5,1409.78 553.5,1409.71 554.5,1409.65 555.5,1409.57 556.5,1409.50 557.5,1409.43 558.5,1409.35 559.5,1409.27 560.5,1409.19 561.5,1409.10 562.5,1409.02 563.5,1408.93 564.5,1408.83 565.5,1408.74 566.5,1408.64 567.5,1408.54 568.5,1408.44 569.5,1408.34 570.5,1408.23 571.5,1408.12 572.5,1408.00 573.5,1407.89 574.5,1407.77 575.5,1407.64 576.5,1407.52 577.5,1407.39 578.5,1407.26 579.5,1407.12 580.5,1406.98 581.5,1406.84 582.5,1406.70 583.5,1406.55 584.5,1406.40 585.5,1406.24 586.5,1406.09 587.5,1405.92 588.5,1405.76 589.5,1405.59 590.5,1405.42 591.5,1405.24 592.5,1405.07 593.5,1404.88 594.5,1404.70 595.5,1404.51 596.5,1404.32 597.5,1404.12 598.5,1403.92 599.5,1403.72 600.5,1403.51 601.5,1403.30 602.5,1403.08 603.5,1402.87 604.5,1402.64 605.5,1402.42 606.5,1402.19 607.5,1401.96 608.5,1401.72 609.5,1401.48 610.5,1401.24 611.5,1400.99 612.5,1400.74 613.5,1400.49 614.5,1400.23 615.5,1399.97 616.5,1399.70 617.5,1399.44 618.5,1399.16 619.5,1398.89 620.5,1398.61 621.5,1398.33 622.5,1398.04 623.5,1397.76 624.5,1397.46 625.5,1397.17 626.5,1396.87 627.5,1396.57 628.5,1396.27 629.5,1395.96 630.5,1395.65 631.5,1395.33 632.5,1395.02 633.5,1394.70 634.5,1394.37 635.5,1394.05 636.5,1393.72 637.5,1393.39 638.5,1393.06 639.5,1392.72 640.5,1392.38 641.5,1392.04 642.5,1391.70 643.5,1391.35 644.5,1391.00 645.5,1390.65 646.5,1390.30 647.5,1389.94 648.5,1389.58 649.5,1389.22 650.5,1388.86 651.5,1388.50 652.5,1388.13 653.5,1387.76 654.5,1387.39 655.5,1387.02 656.5,1386.65 657.5,1386.27 658.5,1385.89 659.5,1385.52 660.5,1385.14 661.5,1384.75 662.5,1384.37 663.5,1383.99 664.5,1383.60 665.5,1383.21 666.5,1382.83 667.5,1382.44 668.5,1382.05 669.5,1381.66 670.5,1381.26 671.5,1380.87 672.5,1380.47 673.5,1380.08 674.5,1379.68 675.5,1379.28 676.5,1378.89 677.5,1378.49 678.5,1378.09 679.5,1377.69 680.5,1377.29 681.5,1376.89 682.5,1376.48 683.5,1376.08 684.5,1375.68 685.5,1375.27 686.5,1374.87 687.5,1374.46 688.5,1374.06 689.5,1373.65 690.5,1373.24 691.5,1372.84 692.5,1372.43 693.5,1372.02 694.5,1371.61 695.5,1371.21 696.5,1370.80 697.5,1370.39 698.5,1369.98 699.5,1369.57 700.5,1369.16 701.5,1368.75 702.5,1368.33 703.5,1367.92 704.5,1367.51 705.5,1367.10 706.5,1366.69 707.5,1366.27 708.5,1365.86 709.5,1365.44 710.5,1365.03 711.5,1364.61 712.5,1364.20 713.5,1363.78 714.5,1363.37 715.5,1362.95 716.5,1362.53 717.5,1362.11 718.5,1361.70 719.5,1361.28 720.5,1360.86 721.5,1360.44 722.5,1360.02 723.5,1359.59 724.5,1359.17 725.5,1358.75 726.5,1358.33 727.5,1357.90 728.5,1357.48 729.5,1357.05 730.5,1356.63 731.5,1356.20 732.5,1355.77 733.5,1355.34 734.5,1354.91 735.5,1354.48 736.5,1354.05 737.5,1353.62 738.5,1353.19 739.5,1352.75 740.5,1352.32 741.5,1351.89 742.5,1351.45 743.5,1351.01 744.5,1350.58 745.5,1350.14 746.5,1349.70 747.5,1349.26 748.5,1348.82 749.5,1348.37 750.5,1347.93 751.5,1347.49 752.5,1347.04 753.5,1346.60 754.5,1346.15 755.5,1345.71 756.5,1345.26 757.5,1344.81 758.5,1344.36 759.5,1343.91 760.5,1343.46 761.5,1343.01 762.5,1342.56 763.5,1342.10 764.5,1341.65 765.5,1341.20 766.5,1340.74 767.5,1340.29 768.5,1339.83 769.5,1339.37 770.5,1338.92 771.5,1338.46 772.5,1338.00 773.5,1337.54 774.5,1337.08 775.5,1336.63 776.5,1336.17 777.5,1335.71 778.5,1335.25 779.5,1334.79 780.5,1334.33 781.5,1333.86 782.5,1333.40 783.5,1332.94 784.5,1332.48 785.5,1332.02 786.5,1331.56 787.5,1331.10 788.5,1330.64 789.5,1330.17 790.5,1329.71 791.5,1329.25 792.5,1328.79 793.5,1328.33 794.5,1327.87 795.5,1327.40 796.5,1326.94 797.5,1326.48 798.5,1326.02 799.5,1325.56 800.5,1325.10 801.5,1324.64 802.5,1324.17 803.5,1323.71 804.5,1323.25 805.5,1322.79 806.5,1322.33 807.5,1321.87 808.5,1321.40 809.5,1320.94 810.5,1320.48 811.5,1320.01 812.5,1319.55 813.5,1319.09 814.5,1318.62 815.5,1318.15 816.5,1317.69 817.5,1317.22 818.5,1316.75 819.5,1316.28 820.5,1315.81 821.5,1315.34 822.5,1314.86 823.5,1314.39 824.5,1313.91 825.5,1313.43 826.5,1312.95 827.5,1312.47 828.5,1311.98 829.5,1311.49 830.5,1311.00 831.5,1310.50 832.5,1310.00 833.5,1309.50 834.5,1309.00 835.5,1308.49 836.5,1307.97 837.5,1307.45 838.5,1306.93 839.5,1306.40 840.5,1305.87 841.5,1305.33 842.5,1304.78 843.5,1304.23 844.5,1303.67 845.5,1303.10 846.5,1302.53 847.5,1301.94 848.5,1301.35 849.5,1300.76 850.5,1300.15 851.5,1299.53 852.5,1298.90 853.5,1298.27 854.5,1297.62 855.5,1296.96 856.5,1296.29 857.5,1295.61 858.5,1294.91 859.5,1294.20 860.5,1293.48 861.5,1292.75 862.5,1292.00 863.5,1291.23 864.5,1290.45 865.5,1289.65 866.5,1288.84 867.5,1288.01 868.5,1287.16 869.5,1286.29 870.5,1285.41 871.5,1284.50 872.5,1283.58 873.5,1282.63 874.5,1281.66 875.5,1280.67 876.5,1279.66 877.5,1278.62 878.5,1277.56 879.5,1276.48 880.5,1275.37 881.5,1274.23 882.5,1273.07 883.5,1271.88 884.5,1270.66 885.5,1269.42 886.5,1268.14 887.5,1266.84 888.5,1265.50 889.5,1264.13 890.5,1262.73 891.5,1261.30 892.5,1259.83 893.5,1258.33 894.5,1256.80 895.5,1255.23 896.5,1253.62 897.5,1251.98 898.5,1250.30 899.5,1248.58 900.5,1246.82 901.5,1245.02 902.5,1243.18 903.5,1241.30 904.5,1239.37 905.5,1237.41 906.5,1235.40 907.5,1233.35 908.5,1231.25 909.5,1229.11 910.5,1226.92 911.5,1224.69 912.5,1222.40 913.5,1220.07 914.5,1217.70 915.5,1215.27 916.5,1212.79 917.5,1210.26 918.5,1207.69 919.5,1205.06 920.5,1202.37 921.5,1199.64 922.5,1196.85 923.5,1194.01 924.5,1191.11 925.5,1188.16 926.5,1185.16 927.5,1182.10 928.5,1178.98 929.5,1175.81 930.5,1172.57 931.5,1169.29 932.5,1165.94 933.5,1162.54 934.5,1159.07 935.5,1155.55 936.5,1151.97 937.5,1148.33 938.5,1144.63 939.5,1140.87 940.5,1137.05 941.5,1133.17 942.5,1129.23 943.5,1125.23 944.5,1121.17 945.5,1117.04 946.5,1112.86 947.5,1108.61 948.5,1104.31 949.5,1099.94 950.5,1095.51 951.5,1091.02 952.5,1086.47 953.5,1081.85 954.5,1077.18 955.5,1072.45 956.5,1067.65 957.5,1062.80 958.5,1057.88 959.5,1052.91 960.5,1047.87 961.5,1042.78 962.5,1037.62 963.5,1032.41 964.5,1027.14 965.5,1021.82 966.5,1016.43 967.5,1010.99 968.5,1005.49 969.5,999.94 970.5,994.33 971.5,988.67 972.5,982.95 973.5,977.18 974.5,971.35 975.5,965.48 976.5,959.55 977.5,953.58 978.5,947.55 979.5,941.48 980.5,935.35 981.5,929.18 982.5,922.97 983.5,916.71 984.5,910.41 985.5,904.06 986.5,897.67 987.5,891.24 988.5,884.77 989.5,878.26 990.5,871.72 991.5,865.14 992.5,858.52 993.5,851.87 994.5,845.19 995.5,838.47 996.5,831.73 997.5,824.96 998.5,818.16 999.5,811.33 1000.5,804.48 1001.5,797.61 1002.5,790.71 1003.5,783.80 1004.5,776.87 1005.5,769.92 1006.5,762.95 1007.5,755.97 1008.5,748.98 1009.5,741.98 1010.5,734.97 1011.5,727.95 1012.5,720.92 1013.5,713.90 1014.5,706.86 1015.5,699.83 1016.5,692.80 1017.5,685.77 1018.5,678.75 1019.5,671.73 1020.5,664.72 1021.5,657.72 1022.5,650.73 1023.5,643.76 1024.5,636.80 1025.5,629.85 1026.5,622.93 1027.5,616.02 1028.5,609.14 1029.5,602.28 1030.5,595.45 1031.5,588.65 1032.5,581.87 1033.5,575.13 1034.5,568.42 1035.5,561.74 1036.5,555.10 1037.5,548.50 1038.5,541.94 1039.5,535.42 1040.5,528.95 1041.5,522.52 1042.5,516.14 1043.5,509.81 1044.5,503.53 1045.5,497.30 1046.5,491.13 1047.5,485.01 1048.5,478.95 1049.5,472.95 1050.5,467.01 1051.5,461.14 1052.5,455.33 1053.5,449.59 1054.5,443.91 1055.5,438.30 1056.5,432.77 1057.5,427.31 1058.5,421.92 1059.5,416.61 1060.5,411.37 1061.5,406.22 1062.5,401.14 1063.5,396.15 1064.5,391.24 1065.5,386.41 1066.5,381.67 1067.5,377.02 1068.5,372.46 1069.5,367.98 1070.5,363.60 1071.5,359.31 1072.5,355.11 1073.5,351.01 1074.5,347.00 1075.5,343.09 1076.5,339.28 1077.5,335.56 1078.5,331.95 1079.5,328.44 1080.5,325.03 1081.5,321.72 1082.5,318.52 1083.5,315.42 1084.5,312.42 1085.5,309.54 1086.5,306.76 1087.5,304.08 1088.5,301.52 1089.5,299.06 1090.5,296.71 1091.5,294.48 1092.5,292.35 1093.5,290.34 1094.5,288.43 1095.5,286.64 1096.5,284.96 1097.5,283.40 1098.5,281.94 1099.5,280.60 1100.5,279.38 1101.5,278.26 1102.5,277.26 1103.5,276.38 1104.5,275.61 1105.5,274.95 1106.5,274.41 1107.5,273.98 1108.5,273.66 1109.5,273.46 1110.5,273.38 1111.5,273.40 1112.5,273.54 1113.5,273.80 1114.5,274.16 1115.5,274.64 1116.5,275.23 1117.5,275.93 1118.5,276.75 1119.5,277.67 1120.5,278.71 1121.5,279.86 1122.5,281.11 1123.5,282.48 1124.5,283.95 1125.5,285.53 1126.5,287.22 1127.5,289.02 1128.5,290.92 1129.5,292.92 1130.5,295.03 1131.5,297.24 1132.5,299.56 1133.5,301.98 1134.5,304.50 1135.5,307.11 1136.5,309.83 1137.5,312.65 1138.5,315.56 1139.5,318.57 1140.5,321.67 1141.5,324.87 1142.5,328.16 1143.5,331.54 1144.5,335.01 1145.5,338.57 1146.5,342.22 1147.5,345.96 1148.5,349.78 1149.5,353.69 1150.5,357.68 1151.5,361.75 1152.5,365.91 1153.5,370.14 1154.5,374.45 1155.5,378.84 1156.5,383.31 1157.5,387.85 1158.5,392.46 1159.5,397.15 1160.5,401.90 1161.5,406.72 1162.5,411.62 1163.5,416.57 1164.5,421.59 1165.5,426.68 1166.5,431.83 1167.5,437.04 1168.5,442.30 1169.5,447.63 1170.5,453.01 1171.5,458.44 1172.5,463.93 1173.5,469.47 1174.5,475.06 1175.5,480.70 1176.5,486.39 1177.5,492.13 1178.5,497.90 1179.5,503.72 1180.5,509.59 1181.5,515.49 1182.5,521.43 1183.5,527.41 1184.5,533.42 1185.5,539.47 1186.5,545.56 1187.5,551.67 1188.5,557.81 1189.5,563.98 1190.5,570.18 1191.5,576.41 1192.5,582.66 1193.5,588.93 1194.5,595.23 1195.5,601.54 1196.5,607.87 1197.5,614.22 1198.5,620.59 1199.5,626.97 1200.5,633.37 1201.5,639.78 1202.5,646.20 1203.5,652.62 1204.5,659.06 1205.5,665.51 1206.5,671.95 1207.5,678.41 1208.5,684.87 1209.5,691.33 1210.5,697.79 1211.5,704.25 1212.5,710.71 1213.5,717.16 1214.5,723.62 1215.5,730.06 1216.5,736.51 1217.5,742.94 1218.5,749.37 1219.5,755.79 1220.5,762.19 1221.5,768.59 1222.5,774.97 1223.5,781.34 1224.5,787.70 1225.5,794.04 1226.5,800.36 1227.5,806.67 1228.5,812.96 1229.5,819.23 1230.5,825.48 1231.5,831.71 1232.5,837.92 1233.5,844.11 1234.5,850.27 1235.5,856.41 1236.5,862.52 1237.5,868.61 1238.5,874.67 1239.5,880.71 1240.5,886.72 1241.5,892.69 1242.5,898.64 1243.5,904.56 1244.5,910.45 1245.5,916.31 1246.5,922.14 1247.5,927.94 1248.5,933.70 1249.5,939.43 1250.5,945.12 1251.5,950.78 1252.5,956.41 1253.5,962.00 1254.5,967.56 1255.5,973.08 1256.5,978.56 1257.5,984.00 1258.5,989.41 1259.5,994.78 1260.5,1000.11 1261.5,1005.41 1262.5,1010.66 1263.5,1015.88 1264.5,1021.05 1265.5,1026.19 1266.5,1031.28 1267.5,1036.34 1268.5,1041.35 1269.5,1046.32 1270.5,1051.26 1271.5,1056.15 1272.5,1061.00 1273.5,1065.81 1274.5,1070.57 1275.5,1075.30 1276.5,1079.98 1277.5,1084.62 1278.5,1089.22 1279.5,1093.77 1280.5,1098.28 1281.5,1102.75 1282.5,1107.18 1283.5,1111.57 1284.5,1115.91 1285.5,1120.21 1286.5,1124.47 1287.5,1128.68 1288.5,1132.85 1289.5,1136.98 1290.5,1141.06 1291.5,1145.11 1292.5,1149.11 1293.5,1153.07 1294.5,1156.98 1295.5,1160.85 1296.5,1164.68 1297.5,1168.47 1298.5,1172.22 1299.5,1175.92 1300.5,1179.59 1301.5,1183.21 1302.5,1186.79 1303.5,1190.32 1304.5,1193.82 1305.5,1197.28 1306.5,1200.69 1307.5,1204.06 1308.5,1207.40 1309.5,1210.69 1310.5,1213.94 1311.5,1217.15 1312.5,1220.33 1313.5,1223.46 1314.5,1226.55 1315.5,1229.61 1316.5,1232.62 1317.5,1235.60 1318.5,1238.54 1319.5,1241.43 1320.5,1244.30 1321.5,1247.12 1322.5,1249.91 1323.5,1252.66 1324.5,1255.37 1325.5,1258.05 1326.5,1260.69 1327.5,1263.29 1328.5,1265.86 1329.5,1268.39 1330.5,1270.88 1331.5,1273.35 1332.5,1275.77 1333.5,1278.17 1334.5,1280.52 1335.5,1282.85 1336.5,1285.14 1337.5,1287.40 1338.5,1289.62 1339.5,1291.82 1340.5,1293.98 1341.5,1296.10 1342.5,1298.20 1343.5,1300.27 1344.5,1302.30 1345.5,1304.30 1346.5,1306.28 1347.5,1308.22 1348.5,1310.13 1349.5,1312.02 1350.5,1313.87 1351.5,1315.69 1352.5,1317.49 1353.5,1319.26 1354.5,1321.00 1355.5,1322.71 1356.5,1324.40 1357.5,1326.06 1358.5,1327.69 1359.5,1329.29 1360.5,1330.87 1361.5,1332.43 1362.5,1333.96 1363.5,1335.46 1364.5,1336.94 1365.5,1338.39 1366.5,1339.82 1367.5,1341.22 1368.5,1342.61 1369.5,1343.96 1370.5,1345.30 1371.5,1346.61 1372.5,1347.90 1373.5,1349.17 1374.5,1350.42 1375.5,1351.64 1376.5,1352.84 1377.5,1354.03 1378.5,1355.19 1379.5,1356.33 1380.5,1357.45 1381.5,1358.55 1382.5,1359.63 1383.5,1360.69 1384.5,1361.74 1385.5,1362.76 1386.5,1363.77 1387.5,1364.76 1388.5,1365.73 1389.5,1366.68 1390.5,1367.61 1391.5,1368.53 1392.5,1369.43 1393.5,1370.31 1394.5,1371.18 1395.5,1372.03 1396.5,1372.87 1397.5,1373.69 1398.5,1374.49 1399.5,1375.28 1400.5,1376.05 1401.5,1376.81 1402.5,1377.56 1403.5,1378.29 1404.5,1379.00 1405.5,1379.71 1406.5,1380.40 1407.5,1381.07 1408.5,1381.73 1409.5,1382.38 1410.5,1383.02 1411.5,1383.65 1412.5,1384.26 1413.5,1384.86 1414.5,1385.45 1415.5,1386.02 1416.5,1386.59 1417.5,1387.14 1418.5,1387.68 1419.5,1388.21 1420.5,1388.73 1421.5,1389.24 1422.5,1389.74 1423.5,1390.23 1424.5,1390.71 1425.5,1391.18 1426.5,1391.64 1427.5,1392.09 1428.5,1392.54 1429.5,1392.97 1430.5,1393.39 1431.5,1393.81 1432.5,1394.21 1433.5,1394.61 1434.5,1395.00 1435.5,1395.38 1436.5,1395.75 1437.5,1396.12 1438.5,1396.47 1439.5,1396.82 1440.5,1397.16 1441.5,1397.50 1442.5,1397.83 1443.5,1398.15 1444.5,1398.46 1445.5,1398.77 1446.5,1399.07 1447.5,1399.36 1448.5,1399.65 1449.5,1399.93 1450.5,1400.20 1451.5,1400.47 1452.5,1400.73 1453.5,1400.99 1454.5,1401.24 1455.5,1401.49 1456.5,1401.73 1457.5,1401.96 1458.5,1402.19 1459.5,1402.42 1460.5,1402.64 1461.5,1402.85 1462.5,1403.06 1463.5,1403.27 1464.5,1403.47 1465.5,1403.66 1466.5,1403.85 1467.5,1404.04 1468.5,1404.22 1469.5,1404.40 1470.5,1404.58 1471.5,1404.75 1472.5,1404.91 1473.5,1405.08 1474.5,1405.24 1475.5,1405.39 1476.5,1405.54 1477.5,1405.69 1478.5,1405.84 1479.5,1405.98 1480.5,1406.11 1481.5,1406.25 1482.5,1406.38 1483.5,1406.51 1484.5,1406.63 1485.5,1406.76 1486.5,1406.88 1487.5,1406.99 1488.5,1407.11 1489.5,1407.22 1490.5,1407.33 1491.5,1407.43 1492.5,1407.54 1493.5,1407.64 1494.5,1407.73 1495.5,1407.83 1496.5,1407.92 1497.5,1408.02 1498.5,1408.11 1499.5,1408.19 1500.5,1408.28 1501.5,1408.36 1502.5,1408.44 1503.5,1408.52 1504.5,1408.60 1505.5,1408.67 1506.5,1408.74 1507.5,1408.82 1508.5,1408.89 1509.5,1408.95 1510.5,1409.02 1511.5,1409.08 1512.5,1409.15 1513.5,1409.21 1514.5,1409.27 1515.5,1409.33 1516.5,1409.38 1517.5,1409.44 1518.5,1409.49 1519.5,1409.54 1520.5,1409.60 1521.5,1409.65 1522.5,1409.69 1523.5,1409.74 1524.5,1409.79 1525.5,1409.83 1526.5,1409.88 1527.5,1409.92 1528.5,1409.96 1529.5,1410.00 1530.5,1410.04 1531.5,1410.08 1532.5,1410.12 1533.5,1410.15 1534.5,1410.19 1535.5,1410.23 1536.5,1410.26 1537.5,1410.29 1538.5,1410.32 1539.5,1410.36 1540.5,1410.39 1541.5,1410.42 1542.5,1410.44 1543.5,1410.47 1544.5,1410.50 1545.5,1410.53 1546.5,1410.55 1547.5,1410.58 1548.5,1410.60 1549.5,1410.63 1550.5,1410.65 1551.5,1410.67 1552.5,1410.69 1553.5,1410.71 1554.5,1410.74 1555.5,1410.76 1556.5,1410.78 1557.5,1410.80 1558.5,1410.81 1559.5,1410.83 1560.5,1410.85 1561.5,1410.87 1562.5,1410.88 1563.5,1410.90 1564.5,1410.92 1565.5,1410.93 1566.5,1410.95 1567.5,1410.96 1568.5,1410.98 1569.5,1410.99 1570.5,1411.00 1571.5,1411.02 1572.5,1411.03 1573.5,1411.04 1574.5,1411.05 1575.5,1411.06 1576.5,1411.08 1577.5,1411.09 1578.5,1411.10 1579.5,1411.11 1580.5,1411.12 1581.5,1411.13 1582.5,1411.14 1583.5,1411.15 1584.5,1411.16 1585.5,1411.17 1586.5,1411.17 1587.5,1411.18 1588.5,1411.19 1589.5,1411.20 1590.5,1411.21 1591.5,1411.21 1592.5,1411.22 1593.5,1411.23 1594.5,1411.23 1595.5,1411.24 1596.5,1411.25 1597.5,1411.25 1598.5,1411.26 1599.5,1411.27 1600.5,1411.27 1601.5,1411.28 1602.5,1411.28 1603.5,1411.29 1604.5,1411.29 1605.5,1411.30 1606.5,1411.30 1607.5,1411.31 1608.5,1411.31 1609.5,1411.32 1610.5,1411.32 1611.5,1411.32 1612.5,1411.33 1613.5,1411.33 1614.5,1411.34 1615.5,1411.34 1616.5,1411.34 1617.5,1411.35 1618.5,1411.35 1619.5,1411.35 1620.5,1411.36 1621.5,1411.36 1622.5,1411.36 1623.5,1411.37 1624.5,1411.37 1625.5,1411.37 1626.5,1411.37 1627.5,1411.38 1628.5,1411.38 1629.5,1411.38 1630.5,1411.38 1631.5,1411.39 1632.5,1411.39 1633.5,1411.39 1634.5,1411.39 1635.5,1411.40 1636.5,1411.40 1637.5,1411.40 1638.5,1411.40 1639.5,1411.40 1640.5,1411.40 1641.5,1411.41 1642.5,1411.41 1643.5,1411.41 1644.5,1411.41 1645.5,1411.41 1646.5,1411.41 1647.5,1411.42 1648.5,1411.42 1649.5,1411.42 1650.5,1411.42 1651.5,1411.42 1652.5,1411.42 1653.5,1411.42 1654.5,1411.42 1655.5,1411.43 1656.5,1411.43 1657.5,1411.43 1658.5,1411.43 1659.5,1411.43 1660.5,1411.43 1661.5,1411.43 1662.5,1411.43 1663.5,1411.43 1664.5,1411.43 1665.5,1411.43 1666.5,1411.44 1667.5,1411.44 1668.5,1411.44 1669.5,1411.44 1670.5,1411.44 1671.5,1411.44 1672.5,1411.44 1673.5,1411.44 1674.5,1411.44 1675.5,1411.44 1676.5,1411.44 1677.5,1411.44 1678.5,1411.44 1679.5,1411.44 1680.5,1411.44 1681.5,1411.44 1682.5,1411.45 1683.5,1411.45 1684.5,1411.45 1685.5,1411.45 1686.5,1411.45 1687.5,1411.45 1688.5,1411.45 1689.5,1411.45 1690.5,1411.45 1691.5,1411.45 1692.5,1411.45 1693.5,1411.45 1694.5,1411.45 1695.5,1411.45 1696.5,1411.45 1697.5,1411.45 1698.5,1411.45 1699.5,1411.45 1700.5,1411.45 1701.5,1411.45 1702.5,1411.45 1703.5,1411.45 1704.5,1411.45 1705.5,1411.45 1706.5,1411.45 1707.5,1411.45 1708.5,1411.45 1709.5,1411.45 1710.5,1411.45 1711.5,1411.45 1712.5,1411.45 1713.5,1411.45 1714.5,1411.45 1715.5,1411.46 1716.5,1411.46 1717.5,1411.46 1718.5,1411.46 1719.5,1411.46 1720.5,1411.46 1721.5,1411.46 1722.5,1411.46 1723.5,1411.46 1724.5,1411.46 1725.5,1411.46 1726.5,1411.46 1727.5,1411.46 1728.5,1411.46 1729.5,1411.46 1730.5,1411.46 1731.5,1411.46 1732.5,1411.46 1733.5,1411.46 1734.5,1411.46 1735.5,1411.46 1736.5,1411.46 1737.5,1411.46 1738.5,1411.46 1739.5,1411.46 1740.5,1411.46 1741.5,1411.46 1742.5,1411.46 1743.5,1411.46 1744.5,1411.46 1745.5,1411.46 1746.5,1411.46 1747.5,1411.46 1748.5,1411.46 1749.5,1411.46 1750.5,1411.46 1751.5,1411.46 1752.5,1411.46 1753.5,1411.46 1754.5,1411.46 1755.5,1411.46 1756.5,1411.46 1757.5,1411.46 1758.5,1411.46 1759.5,1411.46 1760.5,1411.46 1761.5,1411.46 1762.5,1411.46 1763.5,1411.46 1764.5,1411.46 1765.5,1411.46 1766.5,1411.46 1767.5,1411.46 1768.5,1411.46 1769.5,1411.46 1770.5,1411.46 1771.5,1411.46 1772.5,1411.46 1773.5,1411.46 1774.5,1411.46 1775.5,1411.46 1776.5,1411.46 1777.5,1411.46 1778.5,1411.46 1779.5,1411.46 1780.5,1411.46 1781.5,1411.46 1782.5,1411.46 1783.5,1411.46 1784.5,1411.46 1785.5,1411.46 1786.5,1411.46 1787.5,1411.46 1788.5,1411.46 1789.5,1411.46 1790.5,1411.46 1791.5,1411.46 1792.5,1411.46 1793.5,1411.46 1794.5,1411.46 1795.5,1411.46 1796.5,1411.46 1797.5,1411.46 1798.5,1411.46 1799.5,1411.46 1800.5,1411.46 1801.5,1411.46 1802.5,1411.46 1803.5,1411.46 1804.5,1411.46 1805.5,1411.46 1806.5,1411.46 1807.5,1411.46 1808.5,1411.46 1809.5,1411.46 1810.5,1411.46 1811.5,1411.46 1812.5,1411.46 1813.5,1411.46 1814.5,1411.46 1815.5,1411.46 1816.5,1411.46 1817.5,1411.46 1818.5,1411.46 1819.5,1411.46 1820.5,1411.46 1821.5,1411.46 1822.5,1411.46 1823.5,1411.46 1824.5,1411.46 1825.5,1411.46 1826.5,1411.46 1827.5,1411.46 1828.5,1411.46 1829.5,1411.46 1830.5,1411.46 1831.5,1411.46 1832.5,1411.46 1833.5,1411.46 1834.5,1411.46 1835.5,1411.46 1836.5,1411.46 1837.5,1411.46 1838.5,1411.46 1839.5,1411.46 1840.5,1411.46 1841.5,1411.46 1842.5,1411.46 1843.5,1411.46 1844.5,1411.46 1845.5,1411.46 1846.5,1411.46 1847.5,1411.46 1848.5,1411.46 1849.5,1411.46 1850.5,1411.46 1851.5,1411.46 1852.5,1411.46 1853.5,1411.46 1854.5,1411.46 1855.5,1411.46 1856.5,1411.46 1857.5,1411.46 1858.5,1411.46 1859.5,1411.46 1860.5,1411.46 1861.5,1411.46 1862.5,1411.46 1863.5,1411.46 1864.5,1411.46 1865.5,1411.46 1866.5,1411.46 1867.5,1411.46 1868.5,1411.46 1869.5,1411.46 1870.5,1411.46 1871.5,1411.46 1872.5,1411.46 1873.5,1411.46 1874.5,1411.46 1875.5,1411.46 1876.5,1411.46 1877.5,1411.46 1878.5,1411.46 1879.5,1411.46 1880.5,1411.46 1881.5,1411.46 1882.5,1411.46 1883.5,1411.46 1884.5,1411.46 1885.5,1411.46 1886.5,1411.46 1887.5,1411.46 1888.5,1411.46 1889.5,1411.46 1890.5,1411.46 1891.5,1411.46 1892.5,1411.46 1893.5,1411.46 1894.5,1411.46 1895.5,1411.46 1896.5,1411.46 1897.5,1411.46 1898.5,1411.46 1899.5,1411.46 1900.5,1411.46 1901.5,1411.46 1902.5,1411.46 1903.5,1411.46 1904.5,1411.46 1905.5,1411.46 1906.5,1411.46 1907.5,1411.46 1908.5,1411.46 1909.5,1411.46 1910.5,1411.46 1911.5,1411.46 1912.5,1411.46 1913.5,1411.46 1914.5,1411.46 1915.5,1411.46 1916.5,1411.46 1917.5,1411.46 1918.5,1411.46 1919.5,1411.46 1920.5,1411.46 1921.5,1411.46 1922.5,1411.46 1923.5,1411.46 1924.5,1411.46 1925.5,1411.46 1926.5,1411.46 1927.5,1411.46 1928.5,1411.46 1929.5,1411.46 1930.5,1411.46 1931.5,1411.46 1932.5,1411.46 1933.5,1411.46 1934.5,1411.46 1935.5,1411.46 1936.5,1411.46 1937.5,1411.46 1938.5,1411.46 1939.5,1411.46 1940.5,1411.46 1941.5,1411.46 1942.5,1411.46 1943.5,1411.46 1944.5,1411.46 1945.5,1411.46 1946.5,1411.46 1947.5,1411.46 1948.5,1411.46 1949.5,1411.46 1950.5,1411.46 1951.5,1411.46 1952.5,1411.46 1953.5,1411.46 1954.5,1411.46 1955.5,1411.46 1956.5,1411.46 1957.5,1411.46 1958.5,1411.46 1959.5,1411.46 1960.5,1411.46 1961.5,1411.46 1962.5,1411.46 1963.5,1411.46 1964.5,1411.46 1965.5,1411.46 1966.5,1411.46 1967.5,1411.46 1968.5,1411.46 1969.5,1411.46 1970.5,1411.46 1971.5,1411.46 1972.5,1411.46 1973.5,1411.46 1974.5,1411.46 1975.5,1411.46 1976.5,1411.46 1977.5,1411.46 1978.5,1411.46 1979.5,1411.46 1980.5,1411.46 1981.5,1411.46 1982.5,1411.46 1983.5,1411.46 1984.5,1411.46 1985.5,1411.46 1986.5,1411.46 1987.5,1411.46 1988.5,1411.46 1989.5,1411.46 1990.5,1411.46 1991.5,1411.46 1992.5,1411.46 1993.5,1411.46 1994.5,1411.46 1995.5,1411.46 1996.5,1411.46 1997.5,1411.46 1998.5,1411.46 1999.5,1411.46 2000.5,1411.46 2001.5,1411.46 2002.5,1411.46 2003.5,1411.46 2004.5,1411.46 2005.5,1411.46 2006.5,1411.46 2007.5,1411.46 2008.5,1411.46 2009.5,1411.46 2010.5,1411.46 2011.5,1411.46 2012.5,1411.46 2013.5,1411.46 2014.5,1411.46 2015.5,1411.46 2016.5,1411.46 2017.5,1411.46 2018.5,1411.46 2019.5,1411.46 2020.5,1411.46 2021.5,1411.46 2022.5,1411.46 2023.5,1411.46 2024.5,1411.46 2025.5,1411.46 2026.5,1411.46 2027.5,1411.46 2028.5,1411.46 2029.5,1411.46 2030.5,1411.46 2031.5,1411.46 2032.5,1411.46 2033.5,1411.46 2034.5,1411.46 2035.5,1411.46 2036.5,1411.46 2037.5,1411.46 2038.5,1411.46 2039.5,1411.46 2040.5,1411.46 2041.5,1411.46 2042.5,1411.46 2043.5,1411.46 2044.5,1411.46 2045.5,1411.46 2046.5,1411.46 2047.5,1411.46 2048.4,1411.46 2049.4,1411.46 2050.4,1411.46 2051.4,1411.46 2052.4,1411.46 2053.4,1411.46 2054.4,1411.46 2055.4,1411.46 2056.4,1411.46 2057.4,1411.46 2058.4,1411.46 2059.4,1411.46 2060.4,1411.46 2061.4,1411.46 2062.4,1411.46 2063.4,1411.46 2064.4,1411.46 2065.4,1411.46 2066.4,1411.46 2067.4,1411.46 2068.4,1411.46 2069.4,1411.46 2070.4,1411.46 2071.4,1411.46 2072.4,1411.46 2073.4,1411.46 2074.4,1411.46 2075.4,1411.46 2076.4,1411.46 2077.4,1411.46 2078.4,1411.46 2079.4,1411.46 2080.4,1411.46 2081.4,1411.46 2082.4,1411.46 2083.4,1411.46 2084.4,1411.46 2085.4,1411.46 2086.4,1411.46 2087.4,1411.46 2088.4,1411.46 2089.4,1411.46 2090.4,1411.46 2091.4,1411.46 2092.4,1411.46 2093.4,1411.46 2094.4,1411.46 2095.4,1411.46 2096.4,1411.46 2097.4,1411.46 2098.4,1411.46 2099.4,1411.46 2100.4,1411.46 2101.4,1411.46 2102.4,1411.46 2103.4,1411.46 2104.4,1411.46 2105.4,1411.46 2106.4,1411.46 2107.4,1411.46 2108.4,1411.46 2109.4,1411.46 2110.4,1411.46 2111.4,1411.46 2112.4,1411.46 2113.4,1411.46 2114.4,1411.46"/>
</g>
<g fill="#000">
<rect x="393" y="25" width="1724" height="4"/>
<rect x="2112" y="25" width="5" height="1390"/>
<rect x="2088" y="1409.06" width="24" height="4.8"/>
<rect x="2088" y="1120.55" width="24" height="4.8"/>
<rect x="2088" y="832.03" width="24" height="4.8"/>
<rect x="2088" y="543.52" width="24" height="4.8"/>
<rect x="2088" y="255.00" width="24" height="4.8"/>
<rect x="2102" y="1264.80" width="10" height="4.8"/>
<rect x="2102" y="976.29" width="10" height="4.8"/>
<rect x="2102" y="687.77" width="10" height="4.8"/>
<rect x="2102" y="399.26" width="10" height="4.8"/>
<rect x="2102" y="110.74" width="10" height="4.8"/>
</g>
<polyline fill="none" stroke="#f00" stroke-width="2" points="550.0,1411.0 550.0,1393.2 550.0,1411.0 553.0,1411.0 553.0,1409.2 553.0,1411.0 563.0,1411.0 563.0,1403.2 563.0,1411.0 569.0,1411.0 569.0,1396.2 569.0,1411.0 581.0,1411.0 581.0,1409.2 581.0,1411.0 585.0,1411.0 585.0,1408.2 585.0,1411.0 588.0,1411.0 588.0,1407.2 588.0,1411.0 622.0,1411.0 622.0,1405.1 622.0,1411.0 629.0,1411.0 629.0,1410.2 629.0,1411.0 648.0,1411.0 648.0,1409.0 648.0,1411.0 663.0,1411.0 663.0,1401.0 663.0,1411.0 681.0,1411.0 681.0,1403.0 681.0,1411.0 686.0,1411.0 686.0,1407.0 686.0,1411.0 706.0,1411.0 706.0,1398.0 706.0,1411.0 721.0,1411.0 721.0,1406.1 721.0,1411.0 783.0,1411.0 783.0,1410.2 783.0,1411.0 813.0,1411.0 813.0,1397.2 813.0,1411.0 835.0,1411.0 835.0,1400.2 835.0,1411.0 855.0,1411.0 855.0,1398.2 855.0,1411.0 859.0,1411.0 859.0,1320.9 859.0,1411.0 889.0,1411.0 889.0,1409.2 889.0,1411.0 935.0,1411.0 935.0,1332.1 935.0,1411.0 946.0,1411.0 946.0,1385.0 946.0,1411.0"/>
<polyline fill="none" stroke="#000" stroke-width="2" points="694.0,1411.0 694.0,1391.0 694.0,1411.0 705.0,1411.0 705.0,1406.1 705.0,1411.0 741.0,1411.0 741.0,1392.3 741.0,1411.0 749.0,1411.0 749.0,1399.3 749.0,1411.0 812.0,1411.0 812.0,1405.2 812.0,1411.0 843.0,1411.0 843.0,1408.0 843.0,1411.0 858.0,1411.0 858.0,1327.1 858.0,1411.0 867.0,1411.0 867.0,1408.0 867.0,1411.0 878.0,1411.0 878.0,1401.3 878.0,1411.0 914.0,1411.0 914.0,1403.1 914.0,1411.0 940.0,1411.0 940.0,1401.3 940.0,1411.0 1010.0,1411.0 1010.0,1349.0 1010.0,1411.0 1106.0,1411.0 1106.0,1182.9 1106.0,1411.0 1110.0,1411.0 1110.0,507.1 1110.0,1411.0 1122.0,1411.0 1122.0,839.1 1122.0,1411.0"/>
<g font-size="72" text-anchor="end">
<text x="349" y="1433.0" transform="matrix(1 0 0 1.035 0 -50.154)">0.0</text>
<text x="349" y="1250.8" transform="matrix(1 0 0 1.035 0 -43.778)">2.0×10<tspan font-size="48" dy="-29">4</tspan></text>
<text x="349" y="1063.7" transform="matrix(1 0 0 1.035 0 -37.228)">4.0×10<tspan font-size="48" dy="-29">4</tspan></text>
<text x="349" y="876.5" transform="matrix(1 0 0 1.035 0 -30.678)">6.0×10<tspan font-size="48" dy="-29">4</tspan></text>
<text x="349" y="689.4" transform="matrix(1 0 0 1.035 0 -24.128)">8.0×10<tspan font-size="48" dy="-29">4</tspan></text>
<text x="349" y="502.2" transform="matrix(1 0 0 1.035 0 -17.578)">1.0×10<tspan font-size="48" dy="-29">5</tspan></text>
<text x="349" y="315.1" transform="matrix(1 0 0 1.035 0 -11.028)">1.2×10<tspan font-size="48" dy="-29">5</tspan></text>
<text x="349" y="127.9" transform="matrix(1 0 0 1.035 0 -4.478)">1.4×10<tspan font-size="48" dy="-29">5</tspan></text>
</g>
<g font-size="72">
<text x="2142.8" y="1433.0" transform="matrix(1 0 0 1.035 0 -50.154)">0.0</text>
<text x="2142.8" y="1144.4" transform="matrix(1 0 0 1.035 0 -40.056)">0.5</text>
<text x="2142.8" y="855.9" transform="matrix(1 0 0 1.035 0 -29.958)">1.0</text>
<text x="2142.8" y="567.4" transform="matrix(1 0 0 1.035 0 -19.860)">1.5</text>
<text x="2142.8" y="278.9" transform="matrix(1 0 0 1.035 0 -9.761)">2.0</text>
</g>
<g font-size="72" text-anchor="middle">
<text x="396.1" y="1513" transform="matrix(1 0 0 1.035 0 -52.955)">120</text>
<text x="708.7" y="1513" transform="matrix(1 0 0 1.035 0 -52.955)">140</text>
<text x="1021.3" y="1513" transform="matrix(1 0 0 1.035 0 -52.955)">160</text>
<text x="1333.9" y="1513" transform="matrix(1 0 0 1.035 0 -52.955)">180</text>
<text x="1646.5" y="1513" transform="matrix(1 0 0 1.035 0 -52.955)">200</text>
<text x="1959.1" y="1513" transform="matrix(1 0 0 1.035 0 -52.955)">220</text>
</g>
<text font-size="78.5" x="989.5" y="1638.2">Wavelengh/(nm)</text>
<text font-size="72" transform="translate(91.2,1096.1) rotate(-90)"><tspan x="-0.7" y="0">Absorption/</tspan><tspan x="355.4" y="-8.3">(</tspan><tspan x="379.4" y="0">L</tspan><tspan x="426.2" y="-5.1" font-size="26">·</tspan><tspan x="436.4" y="0">mol</tspan><tspan x="548.5" y="-29" font-size="48">-1</tspan><tspan x="592.1" y="-5.1" font-size="26">·</tspan><tspan x="602.1" y="0">cm</tspan><tspan x="691.6" y="-29" font-size="48">-1</tspan><tspan x="730.5" y="0">)</tspan></text>
<text font-size="72.3" transform="translate(2275.8,450.3) rotate(90)">Oscillator strength</text>
<line x1="1617.1" y1="104.4" x2="1762.9" y2="104.4" stroke="#f00" stroke-width="12.6" stroke-linecap="round"/>
<line x1="1617.5" y1="209.3" x2="1762.3" y2="209.3" stroke="#000" stroke-width="5.5" stroke-linecap="round"/>
<text font-size="72" x="1798.5" y="130.8" transform="matrix(1 0 0 1.035 0 -4.578)">TME-C<tspan x="2023.5" dy="18.4" font-size="48">10</tspan></text>
<text font-size="72" x="1797.15" y="235.8" transform="matrix(1 0 0 1.035 0 -8.253)">GT</text>
</svg></body></html>
